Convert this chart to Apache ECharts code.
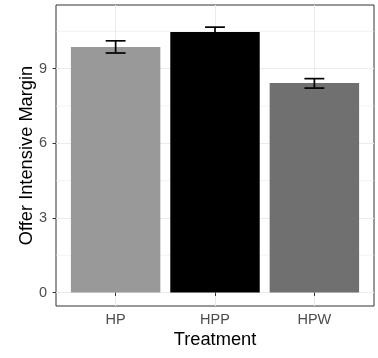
<!DOCTYPE html>
<html>
<head>
<meta charset="utf-8">
<script src="https://cdn.jsdelivr.net/npm/echarts@6/dist/echarts.min.js"></script>
<style>
  html, body { margin: 0; padding: 0; background: #fff; }
  #chart { width: 378px; height: 358px; }
</style>
</head>
<body>
<div id="chart"></div>
<script>
// Treatment groups and their mean offer intensive margin with error bounds
const categories = ['HP', 'HPP', 'HPW'];
const means = [9.87, 10.47, 8.42];
const lowerBounds = [9.63, 10.27, 8.22];
const upperBounds = [10.12, 10.67, 8.60];
const barColors = ['#999999', '#000000', '#707070'];

// Axis breaks
const yMajorBreaks = [0, 3, 6, 9];
const yMinorBreaks = [1.5, 4.5, 7.5, 10.5];
const xPositions = [1, 2, 3];

const FONT = '"Liberation Sans", Arial, sans-serif';
const chart = echarts.init(document.getElementById('chart'), null, { renderer: 'canvas' });

const barData = categories.map((c, i) => [xPositions[i], means[i], i]);
const errData = categories.map((c, i) => [xPositions[i], lowerBounds[i], upperBounds[i]]);

chart.setOption({
  animation: false,
  backgroundColor: '#ffffff',
  grid: {
    left: 56, top: 5, width: 318, height: 301,
    show: true, borderColor: '#333333', borderWidth: 1, backgroundColor: 'transparent'
  },
  xAxis: {
    type: 'value', min: 0.4, max: 3.6,
    name: 'Treatment', nameLocation: 'middle', nameGap: 25, nameMoveOverlap: false,
    nameTextStyle: { color: '#000', fontSize: 18.3, fontFamily: FONT },
    axisLine: { show: false },
    axisTick: { show: true, customValues: xPositions, length: 3.5, lineStyle: { color: '#333333', width: 1 } },
    axisLabel: {
      customValues: xPositions, margin: 6, color: '#4D4D4D', fontSize: 14.5, fontFamily: FONT,
      formatter: v => categories[Math.round(v) - 1]
    },
    splitLine: { show: true, lineStyle: { color: '#EBEBEB', width: 1 } }
  },
  yAxis: {
    type: 'value', min: -0.54, max: 11.56,
    name: 'Offer Intensive Margin', nameLocation: 'middle', nameGap: 20, nameMoveOverlap: false,
    nameTextStyle: { color: '#000', fontSize: 18.3, fontFamily: FONT },
    axisLine: { show: false },
    axisTick: { show: true, customValues: yMajorBreaks, length: 3.5, lineStyle: { color: '#333333', width: 1 } },
    axisLabel: { customValues: yMajorBreaks, margin: 9, color: '#4D4D4D', fontSize: 14.5, fontFamily: FONT },
    splitLine: { show: true, lineStyle: { color: '#EBEBEB', width: 1 } }
  },
  series: [
    {
      // minor horizontal gridlines
      type: 'custom', silent: true, z: 1,
      data: yMinorBreaks.map(v => [v]),
      renderItem: (params, api) => {
        const y = api.value(0);
        const p0 = api.coord([0.4, y]);
        const p1 = api.coord([3.6, y]);
        return { type: 'line', shape: { x1: p0[0], y1: p0[1], x2: p1[0], y2: p1[1] },
                 style: { stroke: '#EBEBEB', lineWidth: 0.6 } };
      }
    },
    {
      // bars
      type: 'custom', z: 3,
      data: barData,
      renderItem: (params, api) => {
        const x = api.value(0);
        const top = api.coord([x, api.value(1)]);
        const base = api.coord([x, 0]);
        const w = api.size([0.9, 0])[0];
        return { type: 'rect',
                 shape: { x: top[0] - w / 2, y: top[1], width: w, height: base[1] - top[1] },
                 style: { fill: barColors[api.value(2)] } };
      }
    },
    {
      // error bars
      type: 'custom', z: 4,
      data: errData,
      renderItem: (params, api) => {
        const x = api.value(0);
        const lo = api.coord([x, api.value(1)]);
        const hi = api.coord([x, api.value(2)]);
        const half = api.size([0.2, 0])[0] / 2;
        const style = { stroke: '#000', lineWidth: 1.7 };
        return { type: 'group', children: [
          { type: 'line', shape: { x1: lo[0], y1: lo[1], x2: hi[0], y2: hi[1] }, style },
          { type: 'line', shape: { x1: lo[0] - half, y1: lo[1], x2: lo[0] + half, y2: lo[1] }, style },
          { type: 'line', shape: { x1: hi[0] - half, y1: hi[1], x2: hi[0] + half, y2: hi[1] }, style }
        ] };
      }
    }
  ]
});
</script>
</body>
</html>
